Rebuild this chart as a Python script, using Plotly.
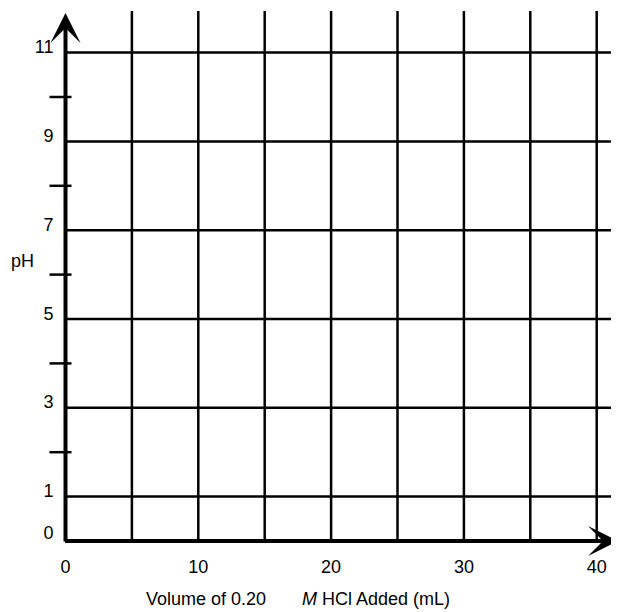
import plotly.graph_objects as go

# ---- data ----
x_tick_labels = [0, 10, 20, 30, 40]
y_tick_labels = [0, 1, 3, 5, 7, 9, 11]
y_minor_ticks = [2, 4, 6, 8, 10]
x_grid = [5, 10, 15, 20, 25, 30, 35, 40]
y_grid = [1, 3, 5, 7, 9, 11]
x_title_a = "Volume of 0.20"
x_title_b = "<i>M</i> HCl Added (mL)"
y_title = "pH"

# ---- geometry (styling) ----
PAGE_OFF = 8            # default body margin of the html page
W, H = 619, 612
X0_PX, PX_X = 65.5, 13.28   # page px of x=0, px per x unit
Y0_PX, PX_Y = 541.0, 44.4   # page px of y=0, px per y unit


def ux(px):  # page px -> x data
    return (px - X0_PX) / PX_X


def uy(py):  # page py -> y data
    return (Y0_PX - py) / PX_Y


X_MIN, X_MAX = ux(PAGE_OFF), ux(W)
Y_MIN, Y_MAX = uy(H), uy(PAGE_OFF)
GRID_TOP = uy(11)
X_ARROW_TIP = ux(618)
Y_ARROW_TIP = uy(13)
FONT = "Liberation Sans, Arial, sans-serif"
FS = 18
LW = 2.5

fig = go.Figure()

# vertical grid lines
vx, vy = [], []
for x in x_grid:
    vx += [x, x, None]
    vy += [0, GRID_TOP, None]
fig.add_trace(go.Scatter(x=vx, y=vy, mode="lines",
                         line=dict(color="black", width=LW),
                         hoverinfo="skip", showlegend=False))

# horizontal grid lines
hx, hy = [], []
for y in y_grid:
    hx += [0, X_MAX, None]
    hy += [y, y, None]
fig.add_trace(go.Scatter(x=hx, y=hy, mode="lines",
                         line=dict(color="black", width=LW),
                         hoverinfo="skip", showlegend=False))

# minor ticks crossing the y axis
tx, ty = [], []
for y in y_minor_ticks:
    tx += [-16 / PX_X, 6 / PX_X, None]
    ty += [y, y, None]
fig.add_trace(go.Scatter(x=tx, y=ty, mode="lines",
                         line=dict(color="black", width=LW),
                         hoverinfo="skip", showlegend=False))

# x tick labels
fig.add_trace(go.Scatter(x=x_tick_labels, y=[-27 / PX_Y] * len(x_tick_labels),
                         mode="text", text=[str(v) for v in x_tick_labels],
                         textposition="middle center",
                         textfont=dict(family=FONT, size=FS, color="black"),
                         hoverinfo="skip", showlegend=False))

# y tick labels
fig.add_trace(go.Scatter(x=[-12 / PX_X] * len(y_tick_labels),
                         y=[v + (4 / PX_Y if v > 0 else 7 / PX_Y) for v in y_tick_labels],
                         mode="text", text=[str(v) for v in y_tick_labels],
                         textposition="middle left",
                         textfont=dict(family=FONT, size=FS, color="black"),
                         hoverinfo="skip", showlegend=False))

# axes with arrowheads
fig.add_annotation(x=X_ARROW_TIP, y=0, ax=-2 / PX_X, ay=0, xref="x", yref="y",
                   axref="x", ayref="y", text="", showarrow=True,
                   arrowhead=3, arrowwidth=4, arrowsize=1.25, arrowcolor="black",
                   standoff=0)
fig.add_annotation(x=0, y=Y_ARROW_TIP, ax=0, ay=-2 / PX_Y, xref="x", yref="y",
                   axref="x", ayref="y", text="", showarrow=True,
                   arrowhead=3, arrowwidth=4, arrowsize=1.25, arrowcolor="black",
                   standoff=0)

# axis titles
fig.add_annotation(x=ux(268), y=uy(599), xref="x", yref="y", text=x_title_a,
                   showarrow=False, font=dict(family=FONT, size=FS, color="black"),
                   xanchor="right", yanchor="middle")
fig.add_annotation(x=ux(300), y=uy(599), xref="x", yref="y", text=x_title_b,
                   showarrow=False, font=dict(family=FONT, size=FS, color="black"),
                   xanchor="left", yanchor="middle")
fig.add_annotation(x=ux(22), y=uy(261), xref="x", yref="y", text=y_title,
                   showarrow=False, font=dict(family=FONT, size=FS, color="black"),
                   xanchor="center", yanchor="middle")

fig.update_xaxes(range=[X_MIN, X_MAX], visible=False, fixedrange=True)
fig.update_yaxes(range=[Y_MIN, Y_MAX], visible=False, fixedrange=True)
fig.update_layout(width=W - PAGE_OFF, height=H - PAGE_OFF,
                  margin=dict(l=0, r=0, t=0, b=0, pad=0),
                  plot_bgcolor="white", paper_bgcolor="white",
                  showlegend=False)

fig.write_html("out.html", config={"displayModeBar": False})
